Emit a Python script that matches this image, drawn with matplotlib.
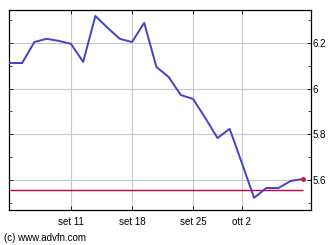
import matplotlib
matplotlib.use('Agg')
import matplotlib.pyplot as plt
from matplotlib.ticker import FormatStrFormatter, MultipleLocator

# daily closes (trading-day index 0 = set 4)
prices = [6.112, 6.112, 6.204, 6.218, 6.209, 6.196, 6.117, 6.318, 6.266, 6.218,
          6.204, 6.288, 6.095, 6.051, 5.972, 5.955, 5.872, 5.784, 5.824, 5.675,
          5.522, 5.565, 5.565, 5.596, 5.605]
ref_level = 5.555
tick_idx = [5, 10, 15, 19]
tick_labels = ['set 11', 'set 18', 'set 25', 'ott 2']
y_ticks = [5.6, 5.8, 6.0, 6.2]

plt.rcParams['font.family'] = ['Liberation Sans', 'DejaVu Sans']

fig = plt.figure(figsize=(3.32, 2.45), dpi=100)
ax = fig.add_axes([0.027, 0.143, 0.91, 0.816])

x = list(range(len(prices)))
ax.plot(x, prices, color='#4640cc', lw=1.4, zorder=3)
ax.plot(x[-1], prices[-1], 'o', color='#e0102a', ms=2.5, zorder=4)
ax.hlines(ref_level, x[0], x[-1], color='#c8003c', lw=1.0, zorder=2)

ax.set_xlim(-0.08, 24.67)
ax.set_ylim(5.469, 6.344)

ax.set_xticks(tick_idx)
ax.set_xticklabels(tick_labels, fontsize=7)
ax.set_yticks(y_ticks)
ax.yaxis.set_major_formatter(FormatStrFormatter('%g'))
ax.yaxis.set_minor_locator(MultipleLocator(0.1))
ax.yaxis.tick_right()
ax.tick_params(axis='y', labelsize=7, length=3, width=0.6, pad=1, direction='in')
ax.tick_params(axis='y', which='minor', length=2, width=0.5, direction='in')
ax.tick_params(axis='x', length=3, width=0.6, pad=5, direction='in', top=True)
ax.tick_params(axis='y', which='both', left=True)

ax.grid(True, color='#c8c8c8', lw=0.8, zorder=0)
for s in ax.spines.values():
    s.set_linewidth(0.9)

fig.text(0.012, 0.01, '(c) www.advfn.com', fontsize=7, ha='left', va='bottom')

plt.savefig('out.png', dpi=100)
